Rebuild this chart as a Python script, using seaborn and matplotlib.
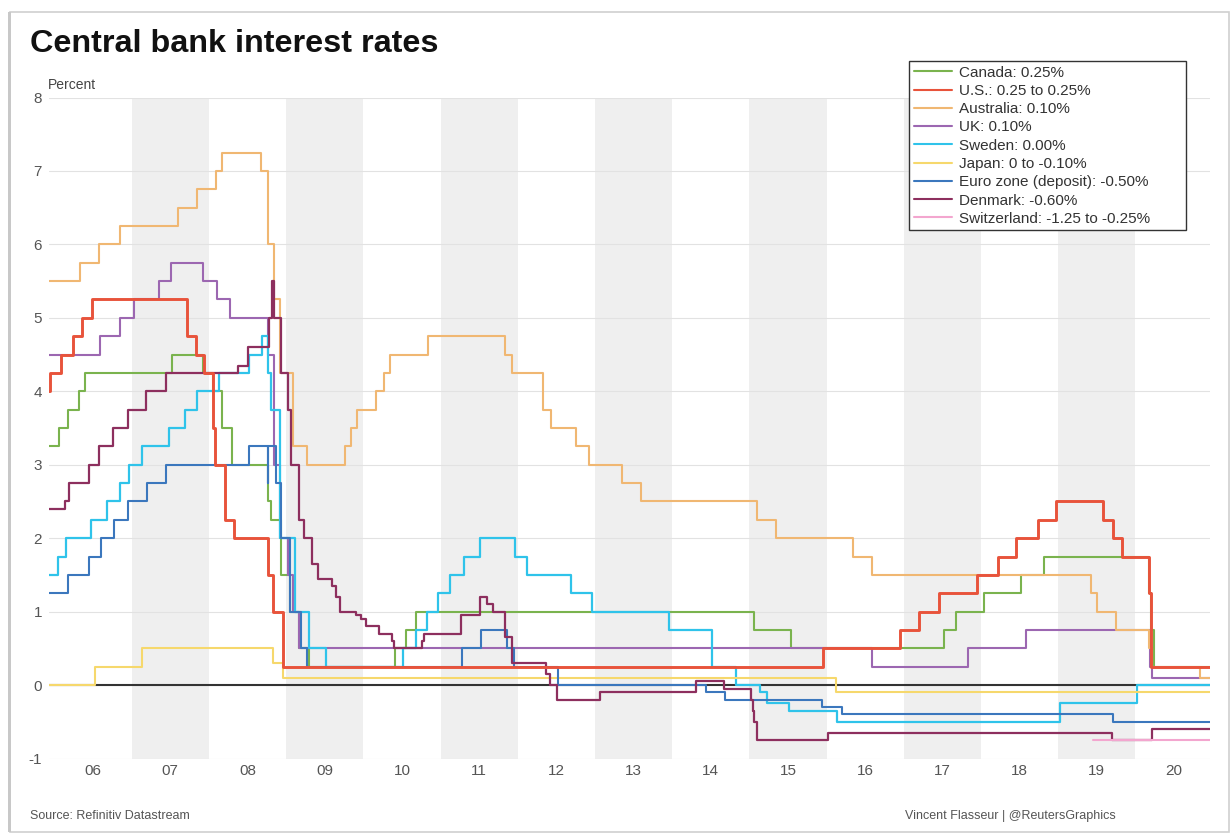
import numpy as np
import pandas as pd
import matplotlib
matplotlib.use("Agg")
import matplotlib.pyplot as plt
import seaborn as sns
from matplotlib.lines import Line2D
from matplotlib.patches import Rectangle

# ---------------- data (policy-rate change dates and new levels) ----------------
canada_dates = ["2005-11-01", "2006-01-24", "2006-03-07", "2006-04-25", "2006-05-24", "2007-07-10",
                "2007-12-04", "2008-01-22", "2008-03-04", "2008-04-22", "2008-10-08", "2008-10-21",
                "2008-12-09", "2009-01-20", "2009-03-03", "2009-04-21", "2010-06-01", "2010-07-20",
                "2010-09-08", "2015-01-21", "2015-07-15", "2017-07-12", "2017-09-06", "2018-01-17",
                "2018-07-11", "2018-10-24", "2020-03-04", "2020-03-13", "2020-03-27"]
canada_rates = [3.25, 3.50, 3.75, 4.00, 4.25, 4.50, 4.25, 4.00, 3.50, 3.00, 2.50, 2.25, 1.50, 1.00,
                0.50, 0.25, 0.50, 0.75, 1.00, 0.75, 0.50, 0.75, 1.00, 1.25, 1.50, 1.75, 1.25, 0.75, 0.25]

us_dates = ["2005-11-01", "2005-12-13", "2006-01-31", "2006-03-28", "2006-05-10", "2006-06-29",
            "2007-09-18", "2007-10-31", "2007-12-11", "2008-01-22", "2008-01-30", "2008-03-18",
            "2008-04-30", "2008-10-08", "2008-10-29", "2008-12-16", "2015-12-16", "2016-12-14",
            "2017-03-15", "2017-06-14", "2017-12-13", "2018-03-21", "2018-06-13", "2018-09-26",
            "2018-12-19", "2019-07-31", "2019-09-18", "2019-10-30", "2020-03-03", "2020-03-15"]
us_rates = [4.00, 4.25, 4.50, 4.75, 5.00, 5.25, 4.75, 4.50, 4.25, 3.50, 3.00, 2.25, 2.00, 1.50,
            1.00, 0.25, 0.50, 0.75, 1.00, 1.25, 1.50, 1.75, 2.00, 2.25, 2.50, 2.25, 2.00, 1.75,
            1.25, 0.25]

australia_dates = ["2005-11-01", "2006-05-03", "2006-08-02", "2006-11-08", "2007-08-08", "2007-11-07",
                   "2008-02-06", "2008-03-05", "2008-09-03", "2008-10-08", "2008-11-05", "2008-12-03",
                   "2009-02-04", "2009-04-08", "2009-10-07", "2009-11-04", "2009-12-02", "2010-03-03",
                   "2010-04-07", "2010-05-05", "2010-11-03", "2011-11-02", "2011-12-07", "2012-05-02",
                   "2012-06-06", "2012-10-03", "2012-12-05", "2013-05-08", "2013-08-07", "2015-02-04",
                   "2015-05-06", "2016-05-04", "2016-08-03", "2019-06-05", "2019-07-03", "2019-10-02",
                   "2020-03-04", "2020-03-19", "2020-11-04"]
australia_rates = [5.50, 5.75, 6.00, 6.25, 6.50, 6.75, 7.00, 7.25, 7.00, 6.00, 5.25, 4.25, 3.25,
                   3.00, 3.25, 3.50, 3.75, 4.00, 4.25, 4.50, 4.75, 4.50, 4.25, 3.75, 3.50, 3.25,
                   3.00, 2.75, 2.50, 2.25, 2.00, 1.75, 1.50, 1.25, 1.00, 0.75, 0.50, 0.25, 0.10]

uk_dates = ["2005-11-01", "2006-08-03", "2006-11-09", "2007-01-11", "2007-05-10", "2007-07-05",
            "2007-12-06", "2008-02-07", "2008-04-10", "2008-10-08", "2008-11-06", "2008-12-04",
            "2009-01-08", "2009-02-05", "2009-03-05", "2016-08-04", "2017-11-02", "2018-08-02",
            "2020-03-11", "2020-03-19"]
uk_rates = [4.50, 4.75, 5.00, 5.25, 5.50, 5.75, 5.50, 5.25, 5.00, 4.50, 3.00, 2.00, 1.50, 1.00,
            0.50, 0.25, 0.50, 0.75, 0.25, 0.10]

sweden_dates = ["2005-11-01", "2006-01-20", "2006-02-27", "2006-06-21", "2006-09-05", "2006-11-06",
                "2006-12-20", "2007-02-21", "2007-06-27", "2007-09-12", "2007-11-07", "2008-02-20",
                "2008-07-09", "2008-09-10", "2008-10-08", "2008-10-23", "2008-12-04", "2009-02-11",
                "2009-04-21", "2009-07-08", "2010-07-06", "2010-09-07", "2010-10-27", "2010-12-20",
                "2011-02-16", "2011-04-20", "2011-07-06", "2011-12-20", "2012-02-15", "2012-09-11",
                "2012-12-18", "2013-12-17", "2014-07-09", "2014-10-29", "2015-02-18", "2015-03-25",
                "2015-07-08", "2016-02-17", "2019-01-09", "2020-01-08"]
sweden_rates = [1.50, 1.75, 2.00, 2.25, 2.50, 2.75, 3.00, 3.25, 3.50, 3.75, 4.00, 4.25, 4.50, 4.75,
                4.25, 3.75, 2.00, 1.00, 0.50, 0.25, 0.50, 0.75, 1.00, 1.25, 1.50, 1.75, 2.00, 1.75,
                1.50, 1.25, 1.00, 0.75, 0.25, 0.00, -0.10, -0.25, -0.35, -0.50, -0.25, 0.00]

japan_dates = ["2005-11-01", "2006-07-14", "2007-02-21", "2008-10-31", "2008-12-19", "2016-02-16"]
japan_rates = [0.00, 0.25, 0.50, 0.30, 0.10, -0.10]

euro_dates = ["2005-11-01", "2006-03-08", "2006-06-15", "2006-08-09", "2006-10-11", "2006-12-13",
              "2007-03-14", "2007-06-13", "2008-07-09", "2008-10-08", "2008-10-09", "2008-11-12",
              "2008-12-10", "2009-01-21", "2009-03-11", "2009-04-08", "2011-04-13", "2011-07-13",
              "2011-11-09", "2011-12-14", "2012-07-11", "2014-06-11", "2014-09-10", "2015-12-09",
              "2016-03-16", "2019-09-18"]
euro_rates = [1.25, 1.50, 1.75, 2.00, 2.25, 2.50, 2.75, 3.00, 3.25, 2.75, 3.25, 2.75, 2.00, 1.00,
              0.50, 0.25, 0.50, 0.75, 0.50, 0.25, 0.00, -0.10, -0.20, -0.30, -0.40, -0.50]

denmark_dates = ["2005-11-01", "2006-02-20", "2006-03-10", "2006-06-12", "2006-08-01", "2006-10-06",
                 "2006-12-14", "2007-03-09", "2007-06-12", "2008-05-16", "2008-07-03", "2008-10-14",
                 "2008-10-27", "2008-11-06", "2008-12-09", "2009-01-12", "2009-01-26", "2009-03-04",
                 "2009-03-26", "2009-05-03", "2009-06-01", "2009-08-04", "2009-08-24", "2009-09-14",
                 "2009-11-28", "2009-12-23", "2010-01-12", "2010-03-18", "2010-05-15", "2010-05-27",
                 "2010-10-07", "2010-10-14", "2011-04-07", "2011-07-07", "2011-08-08", "2011-09-05",
                 "2011-11-03", "2011-12-03", "2012-05-15", "2012-06-01", "2012-07-06", "2013-01-25",
                 "2014-04-24", "2014-09-05", "2015-01-08", "2015-01-20", "2015-01-23", "2015-02-06",
                 "2016-01-08", "2019-09-13", "2020-03-20"]
denmark_rates = [2.40, 2.50, 2.75, 3.00, 3.25, 3.50, 3.75, 4.00, 4.25, 4.35, 4.60, 5.00, 5.50, 5.00,
                 4.25, 3.75, 3.00, 2.25, 2.00, 1.65, 1.45, 1.35, 1.20, 1.00, 0.95, 0.90, 0.80, 0.70,
                 0.60, 0.50, 0.60, 0.70, 0.95, 1.20, 1.10, 1.00, 0.65, 0.30, 0.15, 0.00, -0.20,
                 -0.10, 0.05, -0.05, -0.20, -0.35, -0.50, -0.75, -0.65, -0.75, -0.60]

switzerland_dates = ["2019-06-13"]
switzerland_rates = [-0.75]

legend_labels = ["Canada: 0.25%", "U.S.: 0.25 to 0.25%", "Australia: 0.10%", "UK: 0.10%",
                 "Sweden: 0.00%", "Japan: 0 to -0.10%", "Euro zone (deposit): -0.50%",
                 "Denmark: -0.60%", "Switzerland: -1.25 to -0.25%"]
year_ticks = list(range(2006, 2021))
y_ticks = list(range(-1, 9))

# ---------------- styling ----------------
X_START, X_END = 2005.93, 2020.965

series = {
    # name: (dates, rates, color, linewidth)
    "Canada": (canada_dates, canada_rates, "#7ab34e", 1.5),
    "U.S.": (us_dates, us_rates, "#e8533b", 2.1),
    "Australia": (australia_dates, australia_rates, "#f0b772", 1.5),
    "UK": (uk_dates, uk_rates, "#9c67b1", 1.5),
    "Sweden": (sweden_dates, sweden_rates, "#2fc3ea", 1.6),
    "Japan": (japan_dates, japan_rates, "#f6d86c", 1.5),
    "Euro zone": (euro_dates, euro_rates, "#3b77bd", 1.5),
    "Denmark": (denmark_dates, denmark_rates, "#8d2f5e", 1.6),
    "Switzerland": (switzerland_dates, switzerland_rates, "#f3a6cf", 1.5),
}
legend_order = ["Canada", "U.S.", "Australia", "UK", "Sweden", "Japan", "Euro zone", "Denmark", "Switzerland"]
draw_order = ["Canada", "UK", "Australia", "Sweden", "Japan", "Euro zone", "Denmark", "Switzerland", "U.S."]


def to_year(dates):
    d = pd.to_datetime(pd.Series(dates))
    days = np.where(d.dt.is_leap_year, 366.0, 365.0)
    return (d.dt.year + (d.dt.dayofyear - 1) / days).to_numpy()


sns.set_theme(style="white")
plt.rcParams["font.family"] = ["Liberation Sans", "DejaVu Sans"]

fig = plt.figure(figsize=(12.32, 8.34), dpi=100)
W, H = 1232.0, 834.0
ax = fig.add_axes([49 / W, 1 - 758.5 / H, (1210 - 49) / W, (758.5 - 97.5) / H])

# alternating year shading
for y in range(2007, 2021, 2):
    ax.axvspan(y, y + 1, color="#efefef", lw=0, zorder=0)
for v in y_ticks:
    ax.axhline(v, color="#e2e2e2", lw=0.8, zorder=0.5)
ax.axhline(0, color="#333333", lw=1.5, zorder=1)

for i, name in enumerate(draw_order):
    dates, rates, color, lw = series[name]
    xs = np.append(to_year(dates), X_END + 0.05)
    ys = np.append(np.asarray(rates, dtype=float), rates[-1])
    df = pd.DataFrame({"year": xs, "rate": ys})
    sns.lineplot(data=df, x="year", y="rate", ax=ax, color=color, lw=lw,
                 drawstyle="steps-post", estimator=None, sort=False, legend=False,
                 zorder=2 + i)

ax.set_xlim(X_START, X_END)
ax.set_ylim(-1, 8)
ax.set_xticks([y + 0.5 for y in year_ticks])
ax.set_xticklabels([f"{y % 100:02d}" for y in year_ticks])
ax.set_yticks(y_ticks)
ax.set_yticklabels([str(v) for v in y_ticks])
ax.tick_params(axis="both", length=0, labelsize=11, colors="#555555")
ax.tick_params(axis="x", pad=4)
ax.tick_params(axis="y", pad=5)
ax.set_xlabel("")
ax.set_ylabel("")
for s in ax.spines.values():
    s.set_visible(False)

# legend
handles = [Line2D([0], [0], color=series[n][2], lw=1.5) for n in legend_order]
leg = ax.legend(handles, legend_labels, loc="upper left", mode="expand",
                bbox_to_anchor=(909 / W, 1 - 231 / H, (1186 - 909) / W, (231 - 61) / H),
                bbox_transform=fig.transFigure,
                frameon=True, fancybox=False, edgecolor="#333333", framealpha=1,
                fontsize=11, handlelength=2.5, handletextpad=0.45, labelspacing=0.28,
                borderpad=0.3, borderaxespad=0)
leg.get_frame().set_linewidth(1.0)
for t in leg.get_texts():
    t.set_color("#333333")

# texts
fig.text(30 / W, 1 - 44 / H, "Central bank interest rates", fontsize=23.3, fontweight="bold",
         color="#111111", va="center", ha="left")
fig.text(48 / W, 1 - 85 / H, "Percent", fontsize=10, color="#444444", va="center", ha="left")
fig.text(30 / W, 1 - 816 / H, "Source: Refinitiv Datastream", fontsize=9, color="#555555",
         va="center", ha="left")
fig.text(905 / W, 1 - 816 / H, "Vincent Flasseur | @ReutersGraphics", fontsize=9, color="#555555",
         va="center", ha="left")

# card border of the screenshot
fig.patches.append(Rectangle((10 / W, 2 / H), (1229 - 10) / W, (832 - 12) / H,
                             transform=fig.transFigure, fill=False, edgecolor="#d0d0d0", lw=1.2))
fig.patches.append(Rectangle((8 / W, 2 / H), 3 / W, (832 - 12) / H,
                             transform=fig.transFigure, fill=True, facecolor="#c8c8c8", lw=0))

fig.savefig("out.png", dpi=100)
